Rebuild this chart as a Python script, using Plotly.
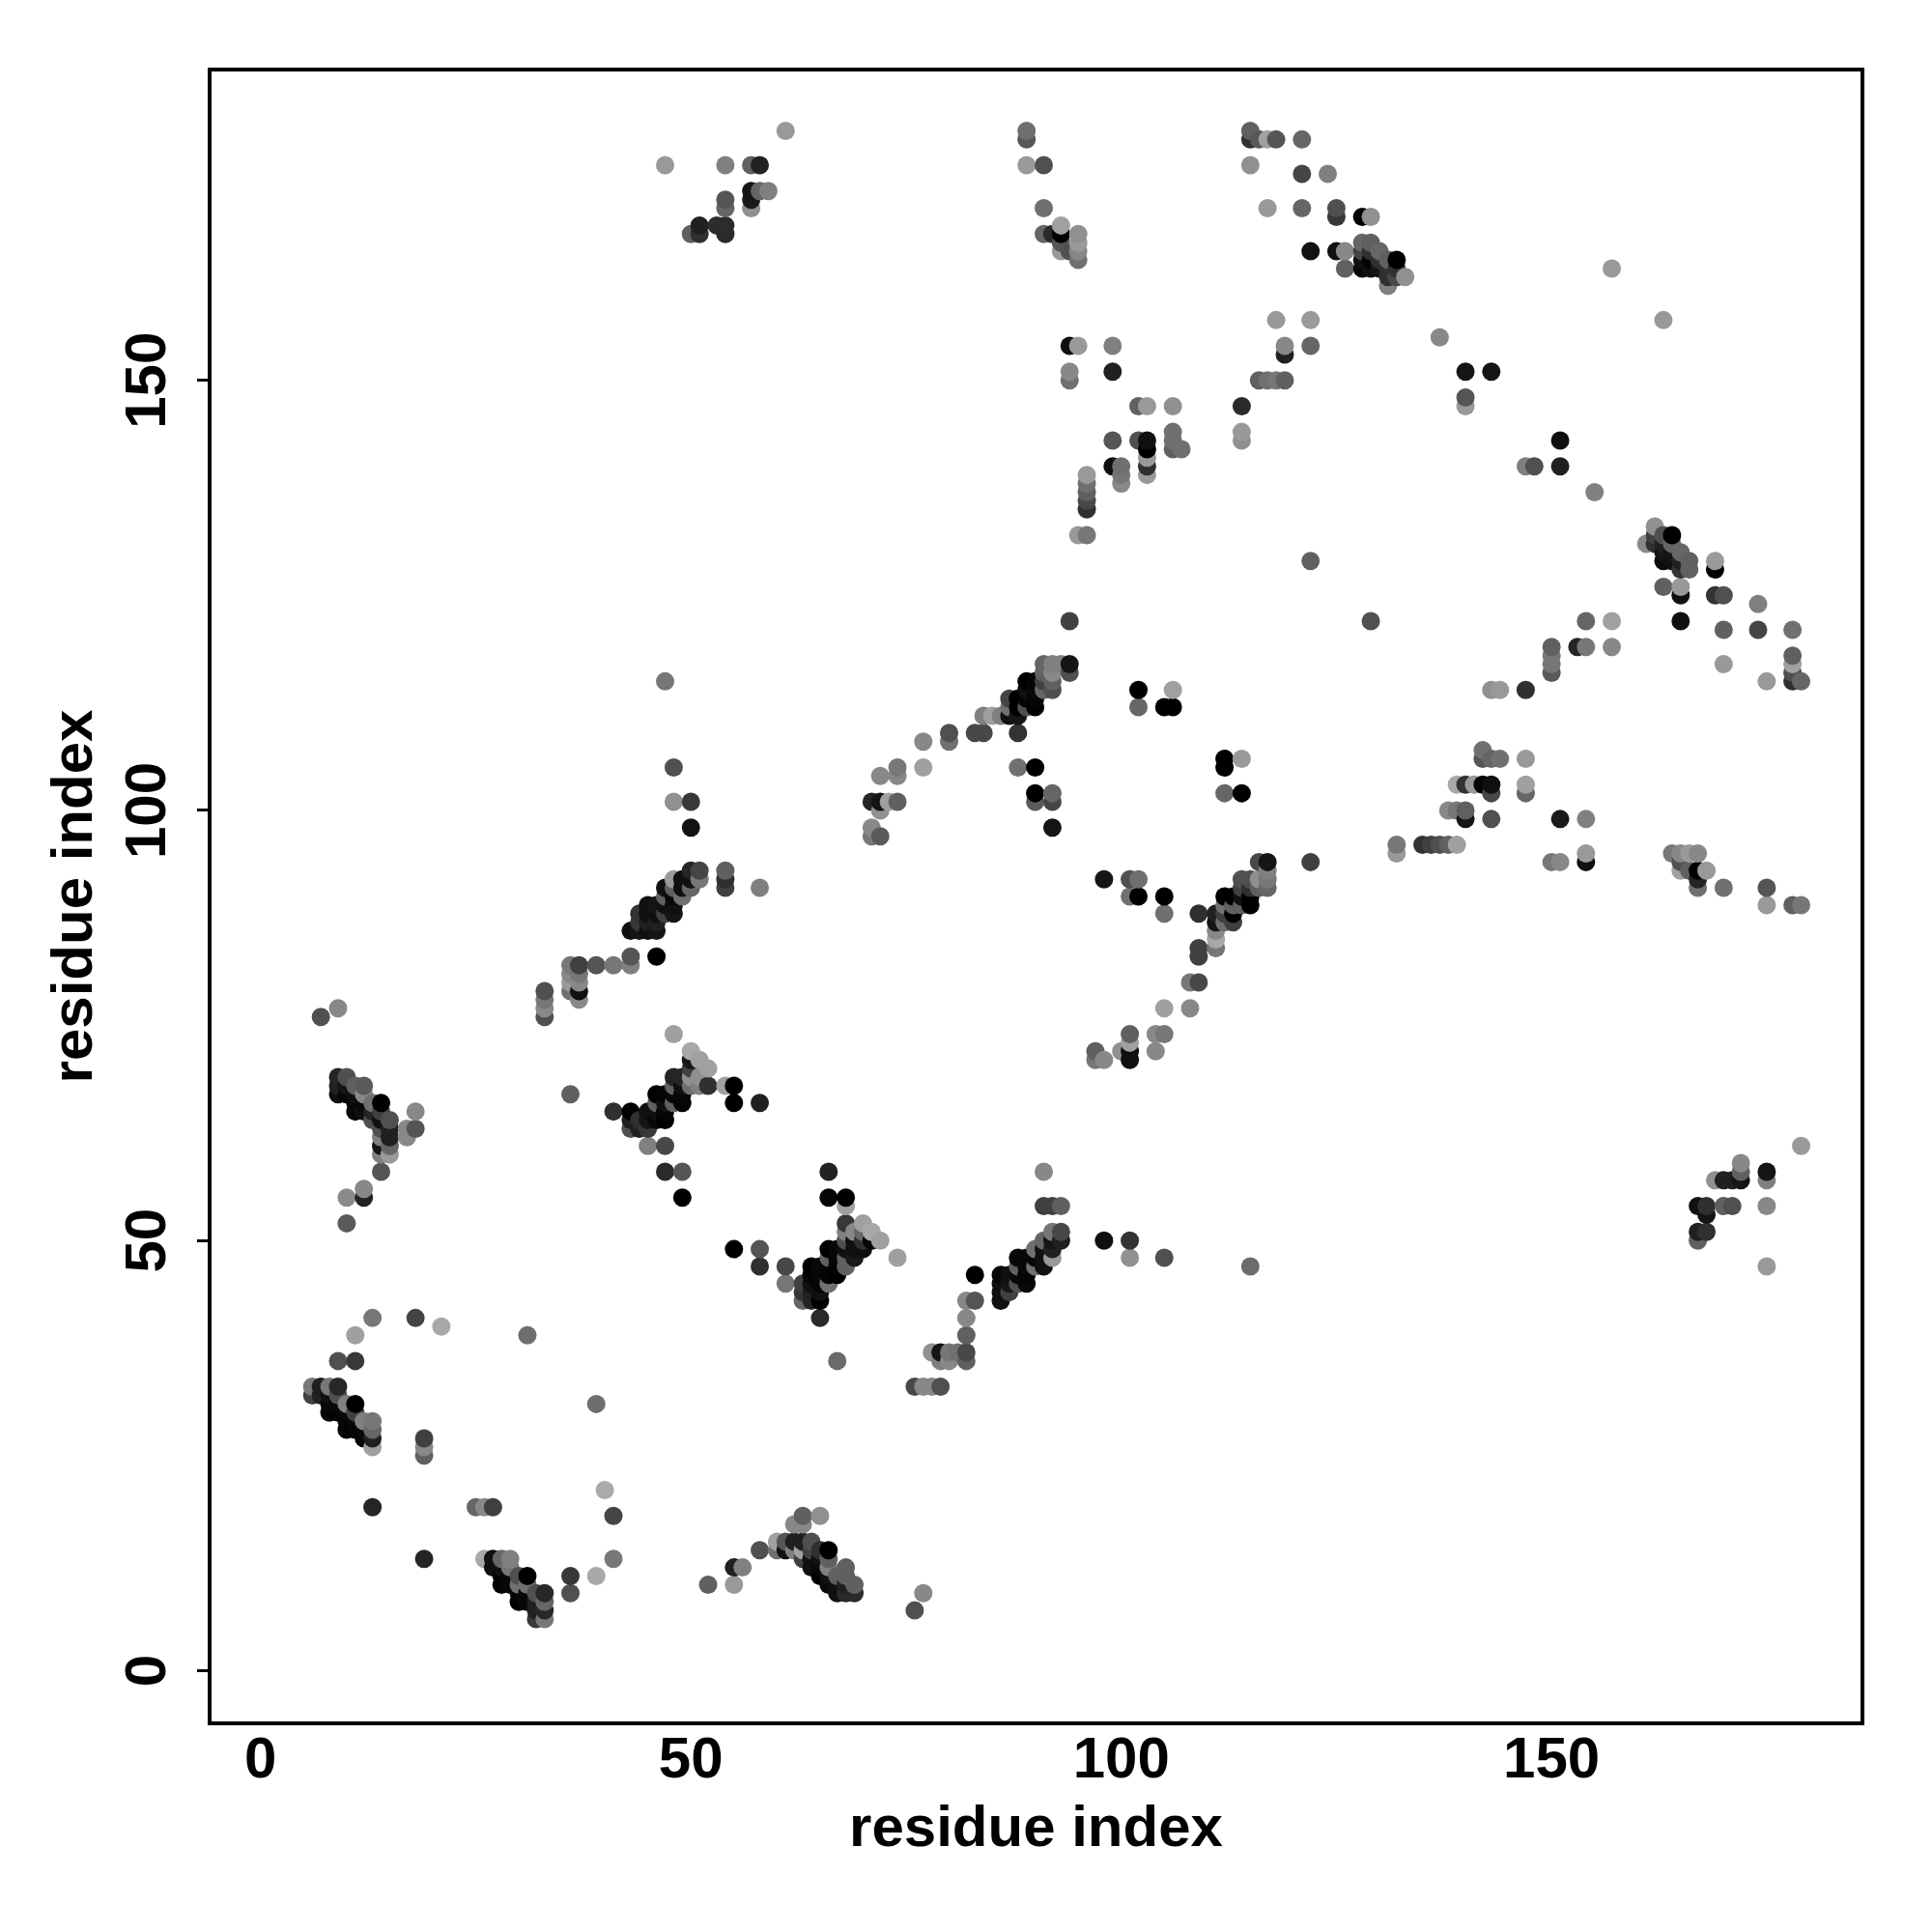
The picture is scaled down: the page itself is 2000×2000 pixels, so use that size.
import plotly.graph_objects as go

x_tick_values = [0, 50, 100, 150]
y_tick_values = [0, 50, 100, 150]
x_title = "residue index"
y_title = "residue index"

# (residue i, residue j, grey level)
group_a = [(6,32,0x40),(6,33,0x77),(7,32,0x22),(7,33,0x20),(8,30,0x05),(8,31,0x08),(8,32,0x10),(8,33,0x77),
           (9,30,0x05),(9,31,0x08),(9,32,0x50),(9,33,0x28),(9,36,0x50),(10,28,0x05),(10,29,0x05),(10,30,0x08),(10,31,0x80),
           (11,28,0x05),(11,29,0x08),(11,30,0x40),(11,31,0x00),(11,36,0x38),(11,39,0xa0),(12,27,0x05),(12,28,0x08),(12,29,0x80),
           (13,19,0x25),(13,26,0xa0),(13,27,0x20),(13,28,0x66),(13,29,0x77),(13,41,0x77),(18,41,0x44),(21,40,0xa8),(31,39,0x6e),
           (19,13,0x25),(19,25,0x60),(19,26,0x88),(19,27,0x40),(25,19,0x66),(26,19,0x88),(27,19,0x40),
           (39,31,0x6e),(40,21,0xaa),(41,18,0x45),(41,13,0x77),(39,11,0xa8),(36,11,0x38),(36,9,0x50)]
group_b = [(26,13,0xa8),(27,13,0x10),(27,12,0x10),(28,13,0x66),(28,12,0x10),(28,11,0x05),(28,10,0x05),
           (29,13,0x80),(29,12,0x77),(29,11,0x08),(29,10,0x08),(30,11,0x50),(30,10,0x70),(30,9,0x05),(30,8,0x00),
           (31,11,0x00),(31,10,0x70),(31,9,0x08),(31,8,0x08),(32,9,0x50),(32,8,0x20),(32,7,0x20),(32,6,0x38),
           (33,9,0x28),(33,8,0x66),(33,7,0x28),(33,6,0x77)]
group_c = [(52,10,0x60),(55,10,0x99),(55,12,0x20),(56,12,0x80),(58,14,0x50),(60,15,0xa0),(60,14,0x70),(61,15,0x55),(61,14,0x10),
           (62,15,0x20),(62,14,0x80),(62,17,0x88),(63,18,0x60),(63,17,0x88),(63,15,0x20),(63,14,0xa0),(63,13,0x40),(65,18,0x90),
           (64,15,0x50),(64,14,0x40),(64,13,0x10),(64,12,0x10),(65,14,0x30),(65,13,0x10),(65,12,0x08),(65,11,0x00),
           (66,14,0x00),(66,13,0x60),(66,12,0x80),(66,11,0x10),(66,10,0x08),(67,11,0x60),(67,10,0x10),(67,9,0x10),
           (68,12,0x60),(68,11,0x60),(68,10,0x20),(68,9,0x2a),(69,10,0x60),(69,9,0x2a),(77,9,0x88),(76,7,0x50)]
group_d = [(55,49,0x00),(58,49,0x55),(58,47,0x30),(61,47,0x48),(61,45,0x77),(63,43,0x66),(63,44,0x35),(63,45,0x40),
           (64,43,0x25),(64,44,0x20),(64,45,0x10),(64,46,0x05),(64,47,0x00),(65,41,0x2a),(65,43,0x00),(65,44,0x10),(65,45,0x05),(65,46,0x08),(65,47,0x08),
           (66,45,0x70),(66,46,0x05),(66,47,0x05),(66,48,0x60),(66,49,0x00),(66,55,0x05),(66,58,0x22),(67,36,0x6a),(67,46,0x00),(67,47,0x05),(67,48,0x05),(67,49,0x08),
           (68,47,0x60),(68,48,0x60),(68,49,0x10),(68,50,0x50),(68,51,0x80),(68,52,0x38),(68,54,0xa0),(68,55,0x00),
           (69,48,0x1a),(69,49,0x10),(69,50,0x10),(69,51,0x88),(70,49,0x10),(70,50,0x30),(70,51,0x66),(70,52,0xa0),(71,50,0x05),(71,51,0xa8),(72,50,0xa0),(74,48,0xa0)]
group_e = [(76,33,0x48),(77,33,0x88),(78,33,0x88),(79,33,0x50),(78,37,0x90),(79,37,0x15),(79,36,0x80),(80,37,0x77),(80,36,0x88),(81,37,0x70),
           (82,37,0x48),(82,36,0x60),(82,39,0x60),(82,41,0x88),(82,43,0x88),(83,43,0x55),(83,46,0x00),
           (86,46,0x08),(86,45,0x10),(86,44,0x10),(86,43,0x10),(87,46,0x10),(87,45,0x15),(87,44,0x40),(88,48,0x08),(88,47,0x60),(88,46,0x08),(88,45,0x50),
           (89,48,0x08),(89,47,0x08),(89,46,0x05),(89,45,0x08),(90,49,0x70),(90,48,0x08),(90,47,0x70),(91,58,0x88),(91,54,0x40),(91,50,0x66),(91,49,0x10),(91,48,0x10),(91,47,0x10),
           (92,54,0x40),(92,51,0x77),(92,50,0x15),(92,49,0x20),(92,48,0x99),(93,54,0x60),(93,51,0x48),(93,50,0x20),
           (98,50,0x10),(101,50,0x33),(101,48,0x90),(105,48,0x50),(115,47,0x6c)]
group_f = [(7,76,0x50),(9,77,0x88),(9,69,0x25),(9,68,0x20),(9,67,0x10),(10,69,0x50),(10,68,0x15),(10,67,0x08),(11,68,0x60),(11,67,0x10),(11,66,0x08),(11,65,0x08),
           (12,68,0x5a),(12,67,0x88),(12,66,0x08),(12,65,0x10),(13,65,0x25),(13,64,0x50),(13,66,0x70),(14,66,0x00),(14,65,0x40),(14,64,0x10),(14,63,0x50),(14,62,0x80),(14,61,0x15),(14,60,0x80),
           (15,64,0x50),(15,63,0x20),(15,62,0x20),(15,61,0x66),(15,60,0x99),(17,62,0x88),(17,63,0x88),(18,63,0x55),(18,65,0x88),(14,58,0x55),(12,56,0x88),(12,55,0x22),(10,55,0x8a),(10,52,0x5a)]
group_g = [(33,79,0x50),(33,78,0x77),(33,77,0x88),(33,76,0x50),(36,82,0x77),(36,81,0x88),(36,80,0x99),(36,79,0x70),(36,67,0x60),(37,82,0x40),(37,81,0x77),(37,80,0x88),(37,79,0x10),(37,78,0x88),
           (39,82,0x55),(41,82,0x77),(43,83,0x55),(43,82,0x80),(46,83,0x00),(47,115,0x77),(48,105,0x50),(48,101,0x90),(50,101,0x38),(50,98,0x12),
           (43,86,0x10),(44,86,0x15),(44,87,0x38),(44,88,0x33),(45,86,0x10),(45,87,0x20),(45,88,0x10),(45,89,0x10),(46,86,0x15),(46,87,0x20),(46,88,0x10),(46,89,0x15),
           (47,88,0x40),(47,89,0x10),(47,90,0x60),(47,91,0x10),(48,88,0x15),(48,89,0x10),(48,90,0x08),(48,91,0x60),(48,92,0x99),(49,90,0x70),(49,91,0x10),(49,92,0x10),
           (50,91,0x66),(50,92,0x10),(50,93,0x25),(51,92,0x77),(51,93,0x45),(54,93,0x60),(54,92,0x30),(54,91,0x40),(58,91,0x80)]
group_h = [(41,65,0x30),(43,63,0x50),(43,64,0x20),(43,65,0x00),(44,63,0x20),(44,64,0x30),(45,61,0x80),(45,63,0x38),(45,64,0x15),(45,65,0x10),(46,64,0x08),(46,65,0x10),(46,66,0x60),(46,67,0x00),
           (47,61,0x48),(47,58,0x2a),(47,64,0x00),(47,65,0x05),(47,66,0x10),(47,67,0x05),(48,66,0x60),(48,67,0x08),(48,68,0x60),(48,69,0x25),(48,74,0xa0),
           (49,58,0x55),(49,55,0x00),(49,66,0x05),(49,67,0x08),(49,68,0x10),(49,69,0x25),(50,68,0x70),(50,69,0x90),(50,70,0x40),(50,71,0x15),(50,72,0xa8),
           (51,68,0x80),(51,69,0x90),(51,71,0xa0),(52,68,0x30),(52,70,0xa0),(54,68,0xa0),(55,68,0x00),(55,66,0x00),(58,66,0x20)]
group_i = [(71,101,0x25),(72,101,0x15),(72,100,0x90),(73,101,0xa0),(74,101,0x60),(71,98,0x88),(71,97,0x77),(72,97,0x5a),(72,104,0x88),(74,104,0x88),(74,105,0x77),(77,105,0xa0),(77,108,0x88),
           (80,108,0x70),(80,109,0x50),(83,109,0x48),(84,109,0x48),(84,111,0x80),(85,111,0xa0),(86,111,0x80),(87,111,0x10),(87,112,0x70),(87,113,0x45),(88,109,0x33),(88,111,0x15),(88,112,0x00),(88,113,0x00),(88,105,0x70),
           (89,112,0x50),(89,113,0x05),(89,114,0x10),(89,115,0x00),(90,105,0x00),(90,102,0x00),(90,101,0x5a),(90,112,0x00),(90,113,0x05),(90,114,0x08),(90,115,0x05),
           (91,114,0x66),(91,115,0x40),(91,116,0x60),(91,117,0x66),(92,102,0x66),(92,101,0x45),(92,98,0x15),(92,114,0x50),(92,115,0x60),(92,116,0x88),(92,117,0x80),(93,117,0x80),(94,116,0x50),(94,117,0x15),(94,122,0x40),
           (102,114,0x00),(106,114,0xa0),(102,112,0x66),(105,112,0x00),(106,112,0x00),(112,106,0x00),(114,106,0x99),(112,105,0x00),(112,102,0x66),(114,102,0x00)]
group_j = [(98,92,0x15),(101,92,0x50),(102,92,0x70),(101,90,0x70),(102,90,0x00),(105,90,0x00),(105,88,0x70),(109,88,0x30),(111,88,0x20),(111,87,0x15),(111,86,0x88),(111,85,0xa8),(111,84,0x77),
           (112,90,0x00),(112,89,0x70),(112,88,0x40),(112,87,0x70),(113,90,0x00),(113,89,0x60),(113,88,0x00),(113,87,0x40),(114,92,0x50),(114,91,0x40),(114,90,0x10),(114,89,0x60),
           (115,92,0x50),(115,91,0x30),(115,90,0x00),(115,89,0x00),(116,94,0x48),(116,92,0x90),(116,91,0x60),(117,94,0x15),(117,93,0x80),(117,92,0x77),(117,91,0x66),(122,94,0x40),
           (109,84,0x40),(109,83,0x40),(109,80,0x48),(108,80,0x77),(108,77,0x88),(105,77,0xa0),(105,74,0x77),(104,74,0x88),(104,72,0x88),
           (101,74,0x60),(101,73,0xa0),(101,72,0x10),(101,71,0x10),(100,72,0x90),(98,71,0x88),(97,72,0x60),(97,71,0x77)]
group_k = [(162,133,0x90),(161,131,0x88),(164,132,0x00),(163,132,0x50),(162,132,0x40),(162,131,0x30),(163,131,0x20),(164,131,0x66),(165,130,0x66),(166,129,0x60),(166,128,0x60),(165,128,0x33),
           (164,129,0x10),(163,129,0x0a),(163,130,0x15),(164,130,0x15),(165,129,0x20),(169,129,0x9a),(169,128,0x00),(163,126,0x60),(165,126,0x99),(165,125,0x10),(169,125,0x33),(170,125,0x50),
           (174,124,0x80),(165,122,0x10),(170,121,0x60),(174,121,0x45),(178,121,0x70),(178,118,0x60),(178,117,0xa0),(178,116,0x50),(178,115,0x30),(179,115,0x66),(175,115,0x99),(170,117,0x99),
           (154,122,0x66),(157,122,0xa0),(153,119,0x25),(154,119,0x77),(157,119,0x88),(150,119,0x60),(150,118,0x77),(150,117,0x77),(150,116,0x5a),(147,114,0x30),(144,114,0x99),(143,114,0x90),(129,122,0x50),(122,129,0x60)]
group_l = [(142,107,0x70),(142,106,0x55),(143,106,0x66),(144,106,0x70),(147,106,0x99),(147,103,0xa0),(147,102,0x66),(143,103,0x10),(142,103,0x05),(141,103,0x99),(140,103,0x33),(139,103,0xa8),(143,102,0x48),
           (140,100,0x60),(139,100,0x77),(138,100,0x88),(140,99,0x15),(143,99,0x50),(151,99,0x1a),(154,99,0x80),(132,96,0x77),(132,95,0x99),(135,96,0x33),(136,96,0x40),(137,96,0x50),(138,96,0x60),(139,96,0xa0),
           (150,94,0x77),(151,94,0x88),(154,95,0x99),(154,94,0x10),(164,95,0x77),(165,95,0x88),(166,95,0x99),(167,95,0x88),(165,94,0x50),(166,93,0x60),(165,93,0xa0),(167,93,0x00),(168,93,0x99),(167,92,0x25),(167,91,0x70),
           (170,91,0x70),(175,91,0x55),(175,89,0x99),(178,89,0x60),(179,89,0x77)]
group_m = [(61,179,0x99),(47,175,0x99),(54,175,0x80),(57,175,0x60),(58,175,0x22),(57,172,0x15),(58,172,0x66),(59,172,0x80),(57,171,0x1a),(57,170,0x90),(54,171,0x55),(54,170,0x66),(54,168,0x2c),(53,168,0x2c),(54,167,0x2a),(51,168,0x20),(51,167,0x30),(50,167,0x60),
           (89,179,0x70),(89,178,0x58),(89,175,0x99),(91,175,0x50),(91,170,0x70),(93,168,0xa0),(93,167,0x00),(92,167,0x2a),(91,167,0x66),(93,166,0x55),(94,165,0x50),(93,165,0x99),(95,167,0x90),(95,166,0x99),(95,165,0x88),(95,164,0x70)]
group_n = [(115,179,0x60),(115,178,0x30),(116,178,0x58),(117,178,0xa0),(118,178,0x55),(121,178,0x66),(115,175,0x90),(121,174,0x45),(124,174,0x80),(117,170,0x99),(121,170,0x66),(125,170,0x50),(125,169,0x38),(128,169,0x00),(129,169,0x90),
           (122,165,0x12),(125,165,0x10),(126,165,0x88),(126,163,0x60),(128,166,0x66),(129,166,0x60),(128,165,0x44),(129,165,0x30),(130,165,0x66),(129,164,0x05),(128,164,0x10),(129,163,0x10),(128,163,0x08),(130,164,0x30),(130,163,0x15),
           (131,164,0x60),(132,164,0x00),(131,163,0x30),(131,162,0x30),(132,163,0x30),(132,162,0x48),(133,162,0x90),(131,161,0x80),(157,163,0x99),(163,157,0x99),(137,155,0x88)]
group_o = [(94,154,0x10),(95,154,0x99),(99,154,0x80),(94,151,0x88),(94,150,0x70),(99,151,0x20),(118,157,0x99),(122,157,0x99),(119,154,0x88),(119,153,0x20),(122,154,0x66),(116,150,0x60),(117,150,0x70),(118,150,0x77),(119,150,0x60),
           (114,147,0x2a),(114,144,0x99),(114,143,0x90),(102,147,0x60),(103,147,0x99),(106,147,0x90),(99,143,0x55),(102,143,0x50),(103,143,0x10),(103,142,0x00),(103,141,0x99),(103,140,0x30),(103,139,0x99),
           (106,144,0x70),(106,143,0x70),(106,142,0x60),(107,142,0x70),(99,140,0x10),(100,140,0x70),(100,139,0x77),(100,138,0x88),(96,139,0x99),(96,138,0x70),(96,137,0x60),(96,136,0x48),(96,135,0x30),(95,132,0x99),(96,132,0x77),
           (140,151,0x15),(143,151,0x15),(140,148,0x55),(140,147,0x99),(147,140,0x80),(148,140,0x50),(151,143,0x10),(151,140,0x20),(155,137,0x80)]
group_p = [(167,54,0x10),(168,54,0x30),(170,54,0x60),(171,54,0x50),(168,53,0x15),(167,51,0x20),(168,51,0x30),(167,50,0x60),(169,57,0x90),(170,57,0x20),(171,57,0x20),(172,57,0x15),(172,58,0x60),(172,59,0x88),
           (175,58,0x15),(175,57,0x80),(175,54,0x88),(175,47,0x99),(179,61,0x99)]

contacts = sorted(group_a + group_b + group_c + group_d + group_e + group_f + group_g + group_h +
                  group_i + group_j + group_k + group_l + group_m + group_n + group_o + group_p,
                  key=lambda c: (c[0], c[1]))
residue_i = [c[0] for c in contacts]
residue_j = [c[1] for c in contacts]
shades = [f"rgb({c[2]},{c[2]},{c[2]})" for c in contacts]

label_font = dict(family="Liberation Sans", size=60, color="black", weight="bold")
fig = go.Figure(go.Scatter(x=residue_i, y=residue_j, mode="markers",
                           marker=dict(size=19, color=shades, line=dict(width=0)),
                           cliponaxis=False, showlegend=False))
axis = dict(showgrid=False, zeroline=False, showline=True, mirror=True, linecolor="black", linewidth=3.5,
            tickfont=label_font, title_font=label_font, tickmode="array")
fig.update_layout(width=2000, height=2000, paper_bgcolor="white", plot_bgcolor="white",
                  margin=dict(l=211, r=82, t=66, b=226),
                  xaxis=dict(axis, range=[-5.7, 185.9], tickvals=x_tick_values, ticktext=[str(v) for v in x_tick_values],
                             ticks="", ticklabelstandoff=-18, title=dict(text=x_title, standoff=18)),
                  yaxis=dict(axis, range=[-5.9, 185.9], tickvals=y_tick_values, ticktext=[str(v) for v in y_tick_values],
                             ticks="outside", ticklen=11, tickwidth=3, tickcolor="black", ticklabelstandoff=9, ticklabelshift=9,
                             tickangle=-90, title=dict(text=y_title, standoff=3)))
fig.write_html("out.html")
